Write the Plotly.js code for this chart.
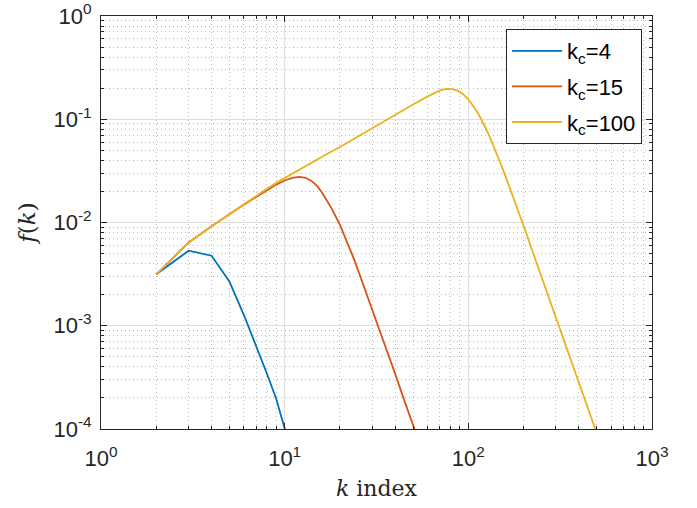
<!DOCTYPE html>
<html>
<head>
<meta charset="utf-8">
<script src="https://cdn.plot.ly/plotly-3.0.1.min.js"></script>
<style>
html,body{margin:0;padding:0;background:#fff;}
#chart{width:697px;height:508px;}
</style>
</head>
<body>
<div id="chart"></div>
<script>
// ---- data ----
const seriesNames = ["k<sub>c</sub>=4", "k<sub>c</sub>=15", "k<sub>c</sub>=100"];

const kBlue = [2, 3, 4, 5, 6, 7, 8, 9, 10, 11];
const fBlue = [3.15e-3, 5.33e-3, 4.77e-3, 2.69e-3, 1.27e-3, 6.4e-4, 3.45e-4, 1.95e-4, 1.05e-4, 5.6e-5];

const kRed = [2, 3, 4, 5, 6, 7, 8, 9, 10, 11, 12, 13, 14, 15, 16, 17, 18, 20, 22, 24, 27, 30, 35, 40, 45, 51, 55];
const fRed = [3.15e-3, 6.4e-3, 9.2e-3, 0.0121, 0.0149, 0.0177, 0.0205, 0.0233, 0.0255, 0.0270, 0.0277, 0.0271,
              0.0253, 0.0226, 0.0194, 0.0164, 0.0137, 0.0095, 0.0064, 0.0043, 0.0024, 0.00142, 6.9e-4, 3.4e-4,
              1.85e-4, 9.9e-5, 6.8e-5];

const kYellow = [2, 3, 4, 5, 6, 7, 8, 9, 10, 12, 14, 17, 21, 26, 33, 40, 50, 58, 65, 70, 76, 82, 88, 94, 100,
                 106, 111, 115, 120, 125, 130, 140, 149, 160, 170, 185, 199, 220, 245, 280, 315, 350, 389, 440,
                 489, 530];
const fYellow = [3.15e-3, 6.4e-3, 9.2e-3, 0.0121, 0.0150, 0.0180, 0.0212, 0.0242, 0.0270, 0.0325, 0.0380,
                 0.0460, 0.0567, 0.0710, 0.0915, 0.1110, 0.1390, 0.161, 0.180, 0.190, 0.197, 0.196, 0.188,
                 0.174, 0.156, 0.136, 0.120, 0.1075, 0.0935, 0.0805, 0.0690, 0.0505, 0.0383, 0.0275, 0.0206,
                 0.0137, 0.0095, 5.7e-3, 3.33e-3, 1.70e-3, 9.43e-4, 5.53e-4, 3.26e-4, 1.75e-4, 1.02e-4, 6.8e-5];

const xTickVals = [1, 10, 100, 1000];
const xTickText = ["10<sup>0</sup>", "10<sup>1</sup>", "10<sup>2</sup>", "10<sup>3</sup>"];
const yTickVals = [1e-4, 1e-3, 1e-2, 1e-1, 1];
const yTickText = ["10<sup>-4</sup>", "10<sup>-3</sup>", "10<sup>-2</sup>", "10<sup>-1</sup>", "10<sup>0</sup>"];

const minorDigits = [2, 3, 4, 5, 6, 7, 8, 9];
function minorVals(decades) {
  const out = [];
  decades.forEach(d => minorDigits.forEach(m => out.push(m * d)));
  return out;
}
const xMinor = minorVals([1, 10, 100]);
const yMinor = minorVals([1e-4, 1e-3, 1e-2, 1e-1]);

const colors = ["#0072BD", "#D95319", "#EDB120"];
const axisColor = "#262626";

const traces = [
  {x: kBlue, y: fBlue, name: seriesNames[0], legendgroup: "a"},
  {x: kRed, y: fRed, name: seriesNames[1], legendgroup: "b"},
  {x: kYellow, y: fYellow, name: seriesNames[2], legendgroup: "c"}
].map((t, i) => Object.assign(t, {
  type: "scatter", mode: "lines",
  line: {color: colors[i], width: 1.8}
}));

function axisCommon() {
  return {
    type: "log",
    showline: true, linecolor: axisColor, linewidth: 1,
    mirror: "allticks",
    ticks: "inside", ticklen: 6, tickwidth: 1, tickcolor: axisColor,
    tickmode: "array",
    showgrid: true, gridcolor: "#dedede", gridwidth: 1,
    zeroline: false,
    tickfont: {family: "Liberation Sans, Arial, sans-serif", size: 22, color: axisColor},
    minor: {
      tickmode: "array",
      ticks: "inside", ticklen: 3, tickwidth: 1, tickcolor: axisColor,
      showgrid: true, gridcolor: "#bdbdbd", gridwidth: 1, griddash: "1px,3px"
    }
  };
}

const titleFont = {family: "DejaVu Serif, Liberation Serif, serif", size: 22, color: axisColor};

const xaxis = axisCommon();
xaxis.range = [0, 3];
xaxis.tickvals = xTickVals;
xaxis.ticktext = xTickText;
xaxis.minor.tickvals = xMinor;
xaxis.ticklabelstandoff = 10;
xaxis.title = {text: "<i>k</i> index", font: titleFont, standoff: 10};

const yaxis = axisCommon();
yaxis.range = [-4, 0];
yaxis.tickvals = yTickVals;
yaxis.ticktext = yTickText;
yaxis.minor.tickvals = yMinor;
yaxis.ticklabelstandoff = 4;
yaxis.title = {text: "<i>f</i>(<i>k</i>)", font: Object.assign({}, titleFont, {size: 23}), standoff: 11};

const layout = {
  width: 697, height: 508,
  margin: {l: 101, r: 45, t: 16, b: 79, pad: 0},
  paper_bgcolor: "#ffffff", plot_bgcolor: "#ffffff",
  xaxis: xaxis, yaxis: yaxis,
  showlegend: true,
  legend: {
    x: 0.982, y: 0.9685, xanchor: "right", yanchor: "top",
    bgcolor: "#ffffff", bordercolor: axisColor, borderwidth: 1,
    font: {family: "Liberation Sans, Arial, sans-serif", size: 22, color: "#000000"},
    tracegroupgap: 4,
    itemwidth: 50
  }
};

Plotly.newPlot("chart", traces, layout, {displayModeBar: false, staticPlot: true});
</script>
</body>
</html>
